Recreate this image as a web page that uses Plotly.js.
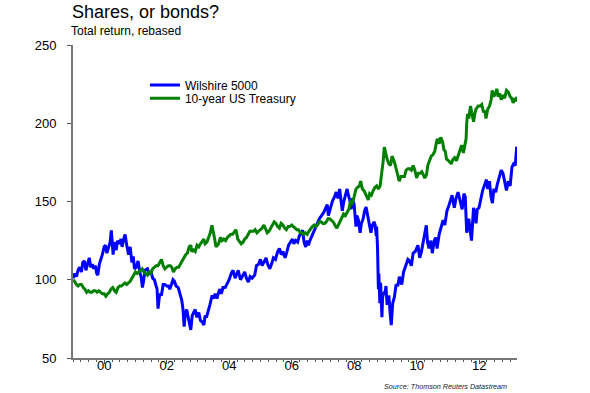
<!DOCTYPE html>
<html>
<head>
<meta charset="utf-8">
<script src="https://cdn.plot.ly/plotly-3.0.1.min.js"></script>
<style>html,body{margin:0;padding:0;background:#fff;}#chart{width:590px;height:393px;}</style>
</head>
<body>
<div id="chart"></div>
<script>
// Wilshire 5000 total return, rebased
const wilshireDates = ["1999-01-01","1999-01-22","1999-02-10","1999-03-01","1999-03-20","1999-04-10","1999-04-25","1999-05-15","1999-06-01","1999-06-20","1999-07-10","1999-07-28","1999-08-15","1999-09-01","1999-09-20","1999-10-05","1999-10-18","1999-11-05","1999-11-25","1999-12-10","1999-12-31",
"2000-01-15","2000-02-01","2000-02-20","2000-03-10","2000-03-24","2000-04-05","2000-04-14","2000-04-25","2000-05-20","2000-06-05","2000-06-25","2000-07-15","2000-07-28","2000-08-15","2000-09-01","2000-09-20","2000-10-12","2000-10-30","2000-11-20","2000-12-05","2000-12-20",
"2001-01-10","2001-01-30","2001-02-20","2001-03-10","2001-03-22","2001-04-05","2001-04-20","2001-05-20","2001-06-10","2001-07-01","2001-07-20","2001-08-10","2001-08-30","2001-09-10","2001-09-21","2001-10-10","2001-10-30","2001-11-20","2001-12-10","2001-12-31",
"2002-01-20","2002-02-05","2002-02-25","2002-03-15","2002-04-01","2002-04-20","2002-05-15","2002-06-01","2002-06-25","2002-07-10","2002-07-23","2002-08-05","2002-08-22","2002-09-05","2002-09-25","2002-10-09","2002-10-25","2002-11-15","2002-11-29","2002-12-20",
"2003-01-10","2003-01-30","2003-02-20","2003-03-11","2003-03-25","2003-04-10","2003-04-30","2003-05-20","2003-06-15","2003-07-01","2003-07-20","2003-08-10","2003-08-30","2003-09-15","2003-10-01","2003-10-20","2003-11-15","2003-12-05","2003-12-31",
"2004-01-25","2004-02-15","2004-03-10","2004-03-31","2004-04-15","2004-05-12","2004-06-05","2004-06-30","2004-07-20","2004-08-12","2004-09-01","2004-09-25","2004-10-25","2004-11-15","2004-12-10","2004-12-31",
"2005-01-20","2005-02-15","2005-03-07","2005-03-25","2005-04-20","2005-05-10","2005-06-01","2005-06-25","2005-07-20","2005-08-10","2005-08-30","2005-09-20","2005-10-15","2005-11-01","2005-11-25","2005-12-15",
"2006-01-10","2006-01-25","2006-02-15","2006-03-10","2006-03-31","2006-04-20","2006-05-08","2006-05-25","2006-06-13","2006-06-30","2006-07-15","2006-08-01","2006-08-25","2006-09-15","2006-10-10","2006-10-30","2006-11-20","2006-12-15",
"2007-01-10","2007-02-20","2007-03-05","2007-03-25","2007-04-20","2007-05-15","2007-06-05","2007-06-25","2007-07-15","2007-08-01","2007-08-15","2007-09-01","2007-09-20","2007-10-10","2007-10-25","2007-11-10","2007-11-26","2007-12-10","2007-12-31",
"2008-01-22","2008-02-01","2008-02-20","2008-03-10","2008-03-25","2008-04-15","2008-05-01","2008-05-19","2008-06-10","2008-06-30","2008-07-15","2008-08-01","2008-08-20","2008-09-02","2008-09-15","2008-09-19","2008-09-30","2008-10-10","2008-10-15","2008-10-27","2008-11-05","2008-11-20","2008-11-28","2008-12-10","2008-12-31",
"2009-01-06","2009-01-20","2009-01-30","2009-02-09","2009-02-25","2009-03-09","2009-03-26","2009-04-15","2009-05-05","2009-05-25","2009-06-12","2009-07-10","2009-07-31","2009-08-25","2009-09-20","2009-10-10","2009-10-30","2009-11-20","2009-12-15",
"2010-01-15","2010-02-05","2010-02-25","2010-03-20","2010-04-23","2010-05-07","2010-05-25","2010-06-15","2010-07-02","2010-07-25","2010-08-10","2010-08-27","2010-09-20","2010-10-15","2010-11-05","2010-11-25","2010-12-20",
"2011-01-15","2011-02-18","2011-03-16","2011-04-05","2011-04-29","2011-05-20","2011-06-16","2011-07-07","2011-07-22","2011-08-08","2011-08-20","2011-09-01","2011-09-22","2011-10-03","2011-10-27","2011-11-10","2011-11-25","2011-12-10","2011-12-30",
"2012-01-20","2012-02-10","2012-03-01","2012-03-26","2012-04-10","2012-04-30","2012-05-18","2012-06-04","2012-06-20","2012-07-12","2012-07-31","2012-08-20","2012-09-14","2012-10-05","2012-10-25","2012-11-15","2012-12-05","2012-12-28",
"2013-01-18","2013-02-05","2013-02-25","2013-03-15"];
const wilshireValues = [101,104,102,106,108,105,111,112,106,110,114,108,110,107,109,104,103,110,113,116,121,
122,117,121,124,131.6,124,116,124,119,125,123,126,121,126,129,122,116,121,111,115,107,
108,112,105,101,95,99,106,107,104,105,101,100,96,94,81.5,91,90,97,97,96,
96,94,97,100,99,96,95,92,87,81,70,78,81,77,72,68,77,80,81,76,
79,74,73,71,77,76,81,84,90,88,91,88,92,94,91,95,95,97,100,
104,106,101,104,106,100,103,105,101,98.5,102,101,103,109,110,113,
109,112,114,110,107,110,114,113,118,120,116,118,114,117,122,124,
126,123,125,124,128,130,131.6,124,121,125,122,125,128,131,134,137,139,141,
143,148,141,145,150,153,156,152,158,150,144,150,155,158,154,151,145,152,148,
134,141,138,130,136,139,144,146.4,140,133,130,135,137,135,128,134,120,94,104,85,98,76,89,91,93,
96,84,88,90,78,71,85,89,97,96,102,97,105,109,113,112,109,117,118,
122,114,118,126,134.8,124,120,125,117,125,127,120,129,134,138,135,144,
148,154,146,152,156,151,145,155,153,130,133,139,128,125,146,143,136,145,146,
152,157,160,164,158,163,153,149,158,156,161,165,170,168,162,157,163,160,
172,174,173,185];

// 10-year US Treasury total return, rebased
const treasuryDates = ["1999-01-01","1999-01-20","1999-02-10","1999-03-01","1999-03-20","1999-04-10","1999-05-01","1999-05-20","1999-06-10","1999-06-30","1999-07-20","1999-08-10","1999-08-30","1999-09-20","1999-10-10","1999-10-30","1999-11-20","1999-12-10","1999-12-31",
"2000-01-20","2000-02-10","2000-03-01","2000-03-20","2000-04-10","2000-05-01","2000-05-20","2000-06-10","2000-06-30","2000-07-20","2000-08-10","2000-08-30","2000-09-20","2000-10-10","2000-10-30","2000-11-20","2000-12-10","2000-12-31",
"2001-01-20","2001-02-10","2001-03-01","2001-03-20","2001-04-10","2001-05-01","2001-05-20","2001-06-10","2001-06-30","2001-07-20","2001-08-10","2001-08-30","2001-09-20","2001-10-10","2001-10-31","2001-11-20","2001-12-10","2001-12-31",
"2002-01-20","2002-02-10","2002-03-01","2002-03-20","2002-04-10","2002-05-01","2002-05-20","2002-06-10","2002-06-30","2002-07-20","2002-08-10","2002-08-30","2002-09-20","2002-10-09","2002-10-20","2002-11-10","2002-11-30","2002-12-20",
"2003-01-10","2003-01-30","2003-02-20","2003-03-10","2003-03-25","2003-04-15","2003-05-05","2003-05-25","2003-06-13","2003-06-30","2003-07-15","2003-07-31","2003-08-15","2003-08-30","2003-09-20","2003-10-10","2003-10-30","2003-11-20","2003-12-10","2003-12-31",
"2004-01-20","2004-02-10","2004-03-01","2004-03-20","2004-04-10","2004-05-01","2004-05-20","2004-06-10","2004-06-30","2004-07-20","2004-08-10","2004-08-30","2004-09-20","2004-10-10","2004-10-30","2004-11-20","2004-12-10","2004-12-31",
"2005-01-20","2005-02-10","2005-03-01","2005-03-20","2005-04-10","2005-05-01","2005-05-20","2005-06-10","2005-06-30","2005-07-20","2005-08-10","2005-08-30","2005-09-20","2005-10-10","2005-10-30","2005-11-20","2005-12-10","2005-12-31",
"2006-01-20","2006-02-10","2006-03-01","2006-03-20","2006-04-10","2006-05-01","2006-05-20","2006-06-10","2006-06-30","2006-07-20","2006-08-10","2006-08-30","2006-09-20","2006-10-10","2006-10-30","2006-11-20","2006-12-10","2006-12-31",
"2007-01-20","2007-02-10","2007-03-01","2007-03-20","2007-04-10","2007-05-01","2007-05-20","2007-06-12","2007-06-30","2007-07-20","2007-08-10","2007-08-30","2007-09-20","2007-10-10","2007-10-30","2007-11-20","2007-12-10","2007-12-31",
"2008-01-22","2008-02-10","2008-03-01","2008-03-17","2008-04-05","2008-04-25","2008-05-15","2008-06-13","2008-06-30","2008-07-20","2008-08-10","2008-08-30","2008-09-20","2008-10-10","2008-10-30","2008-11-20","2008-12-05","2008-12-18",
"2009-01-05","2009-01-20","2009-02-10","2009-03-01","2009-03-18","2009-04-10","2009-05-01","2009-05-20","2009-06-10","2009-06-30","2009-07-20","2009-08-10","2009-08-30","2009-09-20","2009-10-10","2009-10-30","2009-11-20","2009-12-10","2009-12-31",
"2010-01-20","2010-02-10","2010-03-01","2010-03-20","2010-04-05","2010-04-25","2010-05-10","2010-05-30","2010-06-20","2010-07-10","2010-07-30","2010-08-20","2010-08-30","2010-09-20","2010-10-08","2010-10-30","2010-11-15","2010-12-01","2010-12-15",
"2011-01-10","2011-02-08","2011-03-01","2011-03-20","2011-04-10","2011-05-01","2011-05-20","2011-06-10","2011-06-30","2011-07-20","2011-08-01","2011-08-08","2011-08-18","2011-09-01","2011-09-22","2011-10-05","2011-10-27","2011-11-10","2011-11-25","2011-12-20",
"2012-01-10","2012-01-31","2012-02-20","2012-03-10","2012-03-20","2012-04-10","2012-05-01","2012-05-20","2012-06-01","2012-06-20","2012-07-10","2012-07-25","2012-08-10","2012-08-25","2012-09-15","2012-10-05","2012-10-25","2012-11-15","2012-12-05","2012-12-28",
"2013-01-15","2013-02-01","2013-02-20","2013-03-05","2013-03-15"];
const treasuryValues = [100,99,97,96,97,97,95,94,92,93,92,92,93,93,92,93,92,91,91,
89.5,91,92,94,95,93,92,95,96,96,97,98,97,98,99,101,103,105,
104,105,106,107,105,104,103,105,104,107,108,109,109,111,113,109,107,108,
109,109,108,105,107,108,108,110,112,114,116,117,121,122,118,119,118,122,
121,123,125,126,123,124,127,130,134.8,131,126,121,122,123,127,125,126,125,127,128,
129,129,131,132,126,124,123,124,126,127,129,131,131,131,132,130,131,132,
133,135,133,130,131,133,135,137,136,134,133,136,135,133,132,134,134,135,
134,133,132,132,130,130,129,130,129,131,133,134,135,134,135,137,137,136,
136,137,139,139,138,137,135,133,135,137,140,142,141,143,145,150,149,153,
158,159,160,163,158,157,154,151,155,154,157,159,160,158,160,168,176,184.8,
180,177,174,173,179,176,172,168,163,166,166,166,170,171,171,170,173,170,165,
168,168,169,167,165,167,173,176,179,180,182,188,190,187,191,188,183,182,177,
176,174,177,178,176,180,183,186,181,186,190,200,206,203,211,207,201,206,209,211,
211,212,207,208,203,209,211,215,221,217,219,222,217,219,215,218,216,221,220,217,
216,213,216,214,217];

const seriesNames = ["Wilshire 5000", "10-year US Treasury"];
const seriesColors = ["#0000FF", "#008000"];
const yTickVals = [50, 100, 150, 200, 250];

const FONT = "Liberation Sans, Arial, sans-serif";

const traces = [
  {x: wilshireDates, y: wilshireValues, type: "scatter", mode: "lines", name: seriesNames[0],
   line: {color: seriesColors[0], width: 3}, legend: "legend"},
  {x: treasuryDates, y: treasuryValues, type: "scatter", mode: "lines", name: seriesNames[1],
   line: {color: seriesColors[1], width: 3}, legend: "legend2"}
];

const layout = {
  width: 590, height: 393,
  margin: {l: 73, r: 73, t: 45, b: 35, pad: 0},
  paper_bgcolor: "#fff", plot_bgcolor: "#fff",
  font: {family: FONT, size: 13, color: "#000"},
  title: {text: "Shares, or bonds?", x: 72/590, xanchor: "left", xref: "container",
          y: 1 - 12/393, yanchor: "middle", yref: "container",
          font: {family: FONT, size: 18, color: "#000"}},
  showlegend: true,
  legend: {x: 0.162, y: 0.9185, xanchor: "left", yanchor: "top", bgcolor: "rgba(0,0,0,0)",
           borderwidth: 0, font: {family: FONT, size: 12, color: "#000"}},
  legend2: {x: 0.162, y: 0.876, xanchor: "left", yanchor: "top", bgcolor: "rgba(0,0,0,0)",
           borderwidth: 0, font: {family: FONT, size: 12, color: "#000"}},
  xaxis: {type: "date", range: ["1999-01-01", "2013-03-18"],
          tick0: "2000-01-01", dtick: "M24", tickformat: "%y",
          ticks: "outside", ticklen: 4, tickwidth: 1, tickcolor: "#555",
          minor: {dtick: "M3", ticks: "outside", ticklen: 2, tickcolor: "#555", tickwidth: 1, showgrid: false},
          showline: true, linecolor: "#777", linewidth: 2, showgrid: false, zeroline: false,
          tickfont: {family: FONT, size: 13, color: "#000"}, ticklabelstandoff: -10},
  yaxis: {range: [50, 250], tickvals: yTickVals, ticks: "outside", ticklen: 4, tickwidth: 1, tickcolor: "#555",
          showline: true, linecolor: "#777", linewidth: 2, showgrid: false, zeroline: false,
          tickfont: {family: FONT, size: 13, color: "#000"}, ticklabelstandoff: 8},
  annotations: [
    {text: "Total return, rebased", xref: "paper", yref: "paper", x: -0.008, y: 1.0447,
     xanchor: "left", yanchor: "middle", showarrow: false, font: {family: FONT, size: 12, color: "#000"}},
    {text: "<i>Source: Thomson Reuters Datastream</i>", xref: "paper", yref: "paper", x: 0.983, y: -0.092,
     xanchor: "right", yanchor: "middle", showarrow: false, font: {family: FONT, size: 7.2, color: "#222"}}
  ]
};

Plotly.newPlot("chart", traces, layout, {staticPlot: true, displayModeBar: false});
</script>
</body>
</html>
